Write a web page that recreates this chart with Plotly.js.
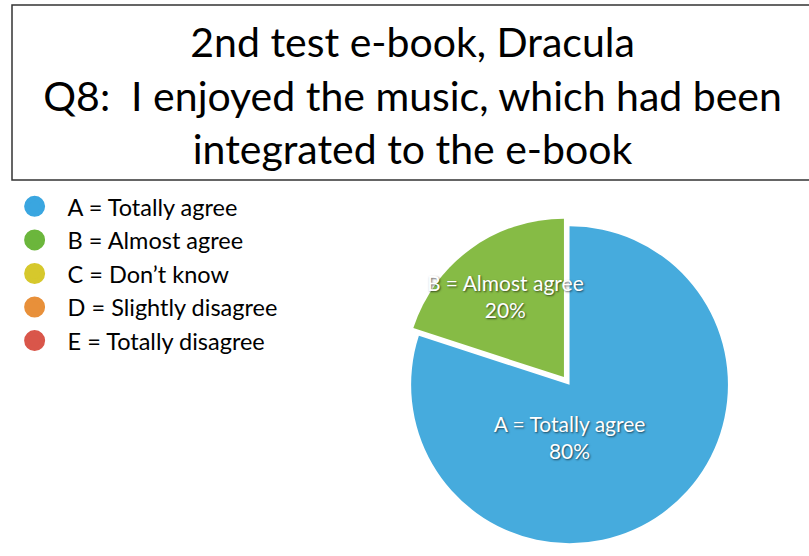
<!DOCTYPE html>
<html>
<head>
<meta charset="utf-8">
<script src="https://cdn.plot.ly/plotly-3.0.1.min.js"></script>
<style>html,body{margin:0;padding:0;background:#fff}#chart{width:809px;height:556px}</style>
</head>
<body>
<div id="chart"></div>
<script>
const categories = ["A = Totally agree", "B = Almost agree", "C = Don’t know", "D = Slightly disagree", "E = Totally disagree"];
const percentages = [80, 20, 0, 0, 0];
const sliceColors = ["#46abdd", "#86bb45", "#d6c82c", "#e8903a", "#d9564a"];
const legendColors = ["#3aa6e0", "#6bb63c", "#d6c82c", "#e8903a", "#d9564a"];
const titleLines = ["2nd test e-book, Dracula", "Q8:  I enjoyed the music, which had been", "integrated to the e-book"];

const FONT = "Lato, 'Open Sans', sans-serif";

const pieTrace = {
  type: "pie",
  labels: categories,
  values: percentages,
  sort: false,
  direction: "clockwise",
  rotation: 0,
  pull: [0, 0.06, 0, 0, 0],
  marker: {colors: sliceColors, line: {width: 0}},
  texttemplate: percentages.map(v => v > 0 ? "%{label}<br>%{value}%" : ""),
  textposition: "inside",
  insidetextorientation: "horizontal",
  textfont: {family: FONT, size: 21, color: "#ffffff", shadow: "1px 1px 2px rgba(0,0,0,0.6)"},
  domain: {x: [0.494, 0.914], y: [0.006, 0.61]},
  showlegend: false,
  hoverinfo: "label+percent"
};

const legendTraces = categories.map((c, i) => ({
  type: "scatter",
  mode: "markers",
  x: [null], y: [null],
  name: c,
  marker: {symbol: "circle", size: 16, color: legendColors[i], line: {color: legendColors[i], width: 5}},
  showlegend: true,
  hoverinfo: "skip"
}));

const layout = {
  width: 809, height: 556,
  margin: {l: 0, r: 0, t: 0, b: 0},
  paper_bgcolor: "#ffffff",
  plot_bgcolor: "#ffffff",
  title: {
    text: titleLines.join("<br>"),
    font: {family: FONT, size: 41, color: "#000000"},
    x: 0.51, xanchor: "center",
    y: 0.897, yanchor: "middle",
    yref: "container"
  },
  xaxis: {visible: false, domain: [0, 0.01]},
  yaxis: {visible: false, domain: [0, 0.01]},
  showlegend: true,
  legend: {
    x: 0.002, y: 0.668, xanchor: "left", yanchor: "top",
    font: {family: FONT, size: 23.5, color: "#000000"},
    itemwidth: 56,
    tracegroupgap: 0,
    bgcolor: "rgba(0,0,0,0)"
  },
  uniformtext: {mode: "show", minsize: 21},
  shapes: [{
    type: "rect", xref: "paper", yref: "paper",
    x0: 12/809, x1: 1.01, y0: 1 - 180/556, y1: 1 - 5/556,
    line: {color: "#333333", width: 1.5}, fillcolor: "rgba(0,0,0,0)"
  }]
};

Plotly.newPlot("chart", [pieTrace].concat(legendTraces), layout, {staticPlot: true, displayModeBar: false});
</script>
</body>
</html>
